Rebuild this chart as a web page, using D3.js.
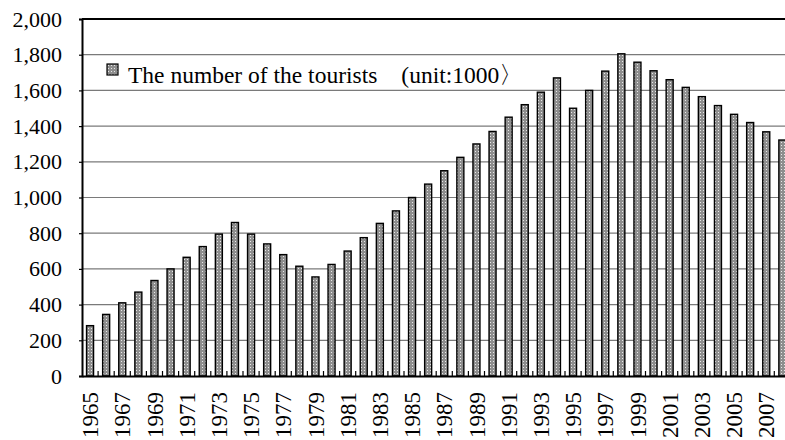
<!DOCTYPE html>
<html>
<head>
<meta charset="utf-8">
<script src="https://cdn.jsdelivr.net/npm/d3@7"></script>
<style>
  body { margin: 0; background: #fff; }
  svg { display: block; }
  svg text { font-family: "Liberation Serif", "Times New Roman", serif; }
</style>
</head>
<body>
<div id="chart"></div>
<script>
// Tourist numbers (unit: 1000), 1965-2008
const years = d3.range(1965, 2009);
const tourists = [
  282, 345, 410, 470, 535, 600, 665, 725, 795, 860,
  795, 740, 680, 615, 555, 625, 700, 775, 855, 925,
  1000, 1075, 1150, 1225, 1300, 1370, 1450, 1520, 1590, 1670,
  1500, 1600, 1708, 1805, 1758, 1710, 1660, 1617, 1565, 1515,
  1466, 1420, 1368, 1322
];
const yTicks = [0, 200, 400, 600, 800, 1000, 1200, 1400, 1600, 1800, 2000];
const legendLabel = "The number of the tourists\u3000(unit:1000\u232A";

const width = 785, height = 440;
const plotLeft = 82, plotTop = 19, plotBottom = 376;
const step = 16.1;

const svg = d3.select("#chart").append("svg")
  .attr("width", width)
  .attr("height", height);

// bar fill pattern: gray with light dots
const defs = svg.append("defs");
const pat = defs.append("pattern")
  .attr("id", "dots")
  .attr("patternUnits", "userSpaceOnUse")
  .attr("width", 3).attr("height", 3);
pat.append("rect").attr("width", 3).attr("height", 3).attr("fill", "#8e8e8e");
pat.append("rect").attr("x", 1).attr("y", 1).attr("width", 1).attr("height", 1).attr("fill", "#e8e8e8");

const x = d3.scaleBand()
  .domain(years)
  .range([plotLeft, plotLeft + years.length * step]);

const y = d3.scaleLinear()
  .domain([0, 2000])
  .range([plotBottom, plotTop]);

// gridlines
svg.append("g")
  .selectAll("line")
  .data(yTicks.filter(d => d > 0 && d < 2000))
  .enter()
  .append("line")
  .attr("x1", plotLeft).attr("x2", width)
  .attr("y1", d => y(d)).attr("y2", d => y(d))
  .attr("stroke", "#7a7a7a")
  .attr("stroke-width", 1.2);

// top border
svg.append("line")
  .attr("x1", plotLeft).attr("x2", width)
  .attr("y1", y(2000)).attr("y2", y(2000))
  .attr("stroke", "#000").attr("stroke-width", 2);

// bars
const barW = 7;
svg.append("g")
  .selectAll("rect")
  .data(years)
  .enter()
  .append("rect")
  .attr("x", (d) => x(d) + x.bandwidth() / 2 - barW / 2)
  .attr("y", (d, i) => y(tourists[i]))
  .attr("width", barW)
  .attr("height", (d, i) => plotBottom - y(tourists[i]))
  .attr("fill", "url(#dots)")
  .attr("stroke", "#000")
  .attr("stroke-width", 1.4);

// y axis
const yAxis = svg.append("g")
  .attr("transform", `translate(${plotLeft},0)`)
  .call(d3.axisLeft(y).tickValues(yTicks).tickFormat(d3.format(",")).tickSize(3).tickPadding(17));
yAxis.attr("font-family", null);
yAxis.select(".domain").attr("stroke-width", 2);
yAxis.selectAll(".tick line").attr("stroke-width", 1.2);
yAxis.selectAll("text")
  .attr("font-size", 22)
  .attr("fill", "#000");

// x axis, labels on every other year
const xAxis = svg.append("g")
  .attr("transform", `translate(0,${plotBottom})`)
  .call(d3.axisBottom(x).tickSize(0).tickPadding(8)
    .tickFormat(d => (d - 1965) % 2 === 0 ? d : ""));
xAxis.attr("font-family", null);
xAxis.select(".domain").attr("stroke-width", 2);
xAxis.selectAll("text")
  .attr("font-size", 23)
  .attr("fill", "#000")
  .attr("text-anchor", "end")
  .attr("dy", "0.35em")
  .attr("transform", "rotate(-90)")
  .attr("x", -16)
  .attr("y", 0);

// small inward ticks between the bars
svg.append("g")
  .selectAll("line")
  .data(years.slice(1))
  .enter()
  .append("line")
  .attr("x1", d => x(d)).attr("x2", d => x(d))
  .attr("y1", plotBottom).attr("y2", plotBottom - 5)
  .attr("stroke", "#000")
  .attr("stroke-width", 1.2);

// legend
const legend = svg.append("g").attr("transform", "translate(107,64)");
legend.append("rect")
  .attr("width", 11).attr("height", 11)
  .attr("fill", "url(#dots)")
  .attr("stroke", "#000")
  .attr("stroke-width", 1.2);
legend.append("text")
  .attr("x", 21).attr("y", 19)
  .attr("font-size", 23.5)
  .attr("fill", "#000")
  .text(legendLabel);
</script>
</body>
</html>
